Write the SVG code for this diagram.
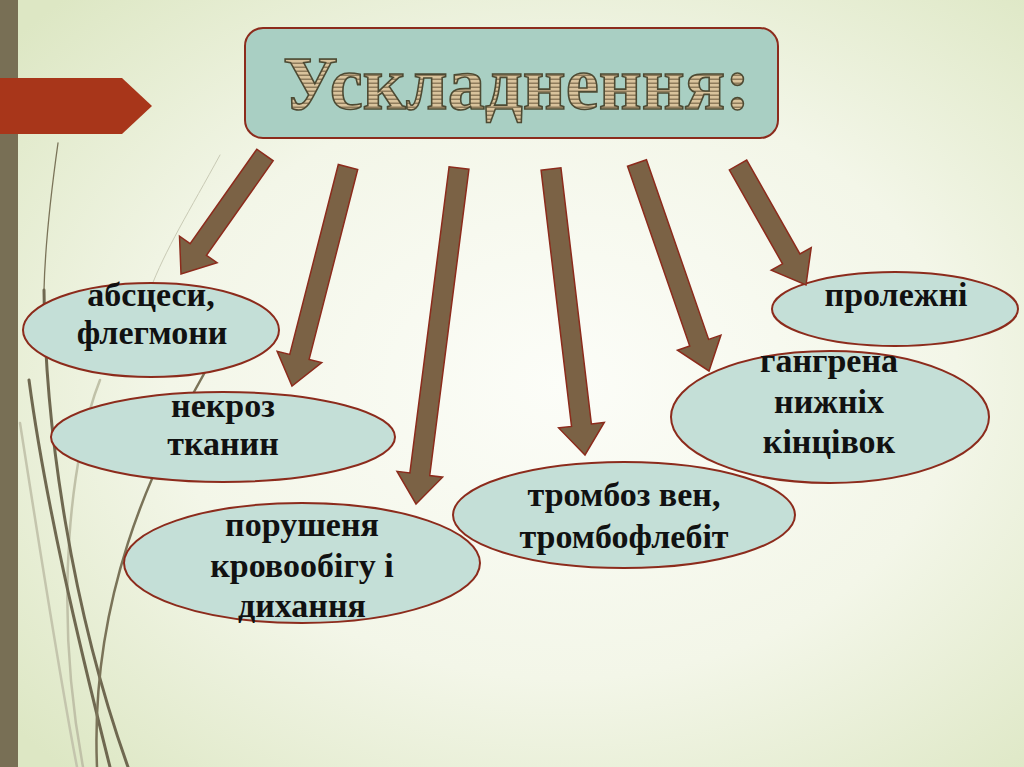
<svg xmlns="http://www.w3.org/2000/svg" width="1024" height="767" viewBox="0 0 1024 767">
  <defs>
    <radialGradient id="bg" cx="55%" cy="50%" r="70%">
      <stop offset="0" stop-color="#fcfdf8"/>
      <stop offset="0.55" stop-color="#f3f6e8"/>
      <stop offset="1" stop-color="#dde7c4"/>
    </radialGradient>
    <pattern id="stripes" width="8" height="4" patternUnits="userSpaceOnUse">
      <rect width="8" height="4" fill="#d9c39c"/>
      <rect y="2.5" width="8" height="1.5" fill="#8f7c5c"/>
    </pattern>
    <style>
      .deco { fill: none; stroke-linecap: round; }
      .node ellipse { fill: #c4dfd7; stroke: #8c2b1c; stroke-width: 2; }
      .node text { font-family: "Liberation Serif", "Times New Roman", serif; font-weight: bold; font-size: 34px; fill: #111; text-anchor: middle; }
      .arrow { fill: #7b6245; stroke: #8c2b1c; stroke-width: 1.5; stroke-linejoin: miter; }
    </style>
  </defs>

  <!-- background -->
  <rect x="0" y="0" width="1024" height="767" fill="url(#bg)"/>

  <!-- decorative curves -->
  <g id="decoration">
    <path class="deco" d="M 20 423 C 40 550, 60 680, 77 767" stroke="#c4c5ad" stroke-width="2.5"/>
    <path class="deco" d="M 100 380 C 72 450, 52 600, 83 767" stroke="#c0c1a8" stroke-width="2.5"/>
    <path class="deco" d="M 220 155 C 190 210, 165 250, 150 290" stroke="#c9cab5" stroke-width="1"/>
    <path class="deco" d="M 58 143 C 50 200, 45 250, 44 290" stroke="#7a7358" stroke-width="1.3"/>
    <path class="deco" d="M 44 290 C 45 430, 72 610, 128 767" stroke="#6f6850" stroke-width="3"/>
    <path class="deco" d="M 29 380 C 45 500, 78 640, 110 767" stroke="#6f6850" stroke-width="3"/>
    <path class="deco" d="M 205 372 C 150 470, 90 600, 97 767" stroke="#7a7358" stroke-width="2.5"/>
  </g>

  <!-- left bar and red marker -->
  <rect x="0" y="0" width="18" height="767" fill="#786f55"/>
  <polygon points="0,78 122,78 152,106 122,134 0,134" fill="#a8361a"/>

  <!-- title -->
  <g id="title">
    <rect x="245" y="28" width="533" height="110" rx="18" ry="18" fill="#a9cfc3" stroke="#8c2b1c" stroke-width="2"/>
    <text x="283" y="109" textLength="467" lengthAdjust="spacingAndGlyphs" font-family="Liberation Serif, Times New Roman, serif" font-weight="bold" font-size="76" fill="url(#stripes)" stroke="#4d4a33" stroke-width="1.6">Ускладнення:</text>
  </g>

  <!-- nodes -->
  <g id="node-abscesy" class="node">
    <ellipse cx="151" cy="330" rx="128" ry="47"/>
    <text x="151" y="306">абсцеси,</text>
    <text x="152" y="344">флегмони</text>
  </g>
  <g id="node-nekroz" class="node">
    <ellipse cx="223" cy="437" rx="172" ry="45"/>
    <text x="223" y="417">некроз</text>
    <text x="223" y="455">тканин</text>
  </g>
  <g id="node-porushennya" class="node">
    <ellipse cx="302" cy="563" rx="178" ry="60"/>
    <text x="302" y="536">порушеня</text>
    <text x="302" y="577">кровообігу і</text>
    <text x="302" y="617">дихання</text>
  </g>
  <g id="node-tromboz" class="node">
    <ellipse cx="624" cy="515" rx="171" ry="53"/>
    <text x="624" y="506">тромбоз вен,</text>
    <text x="624" y="548">тромбофлебіт</text>
  </g>
  <g id="node-gangrena" class="node">
    <ellipse cx="830" cy="417" rx="159" ry="66"/>
    <text x="829" y="372">гангрена</text>
    <text x="829" y="413">нижніх</text>
    <text x="829" y="453">кінцівок</text>
  </g>
  <g id="node-prolezhni" class="node">
    <ellipse cx="895" cy="309" rx="123" ry="37"/>
    <text x="896" y="306">пролежні</text>
  </g>

  <!-- connectors -->
  <g id="connectors">
    <polygon class="arrow" points="256.83,149.23 190.13,243.72 179.51,236.23 181,274 217.09,262.75 206.47,255.26 273.17,160.77"/>
    <polygon class="arrow" points="338.31,164.52 289.74,354.46 277.15,351.24 292,386 321.71,362.64 309.12,359.42 357.69,169.48"/>
    <polygon class="arrow" points="449.08,166.73 409.89,472.97 397.00,471.32 416,504 442.62,477.16 429.73,475.51 468.92,169.27"/>
    <polygon class="arrow" points="541.07,170.18 571.53,426.39 558.62,427.93 585,455 604.30,422.49 591.39,424.03 560.93,167.82"/>
    <polygon class="arrow" points="627.55,166.27 689.74,345.92 677.45,350.17 709,371 720.93,335.13 708.64,339.38 646.45,159.73"/>
    <polygon class="arrow" points="729.30,169.93 782.51,263.83 771.20,270.24 806,285 811.22,247.56 799.91,253.97 746.70,160.07"/>
  </g>
</svg>
